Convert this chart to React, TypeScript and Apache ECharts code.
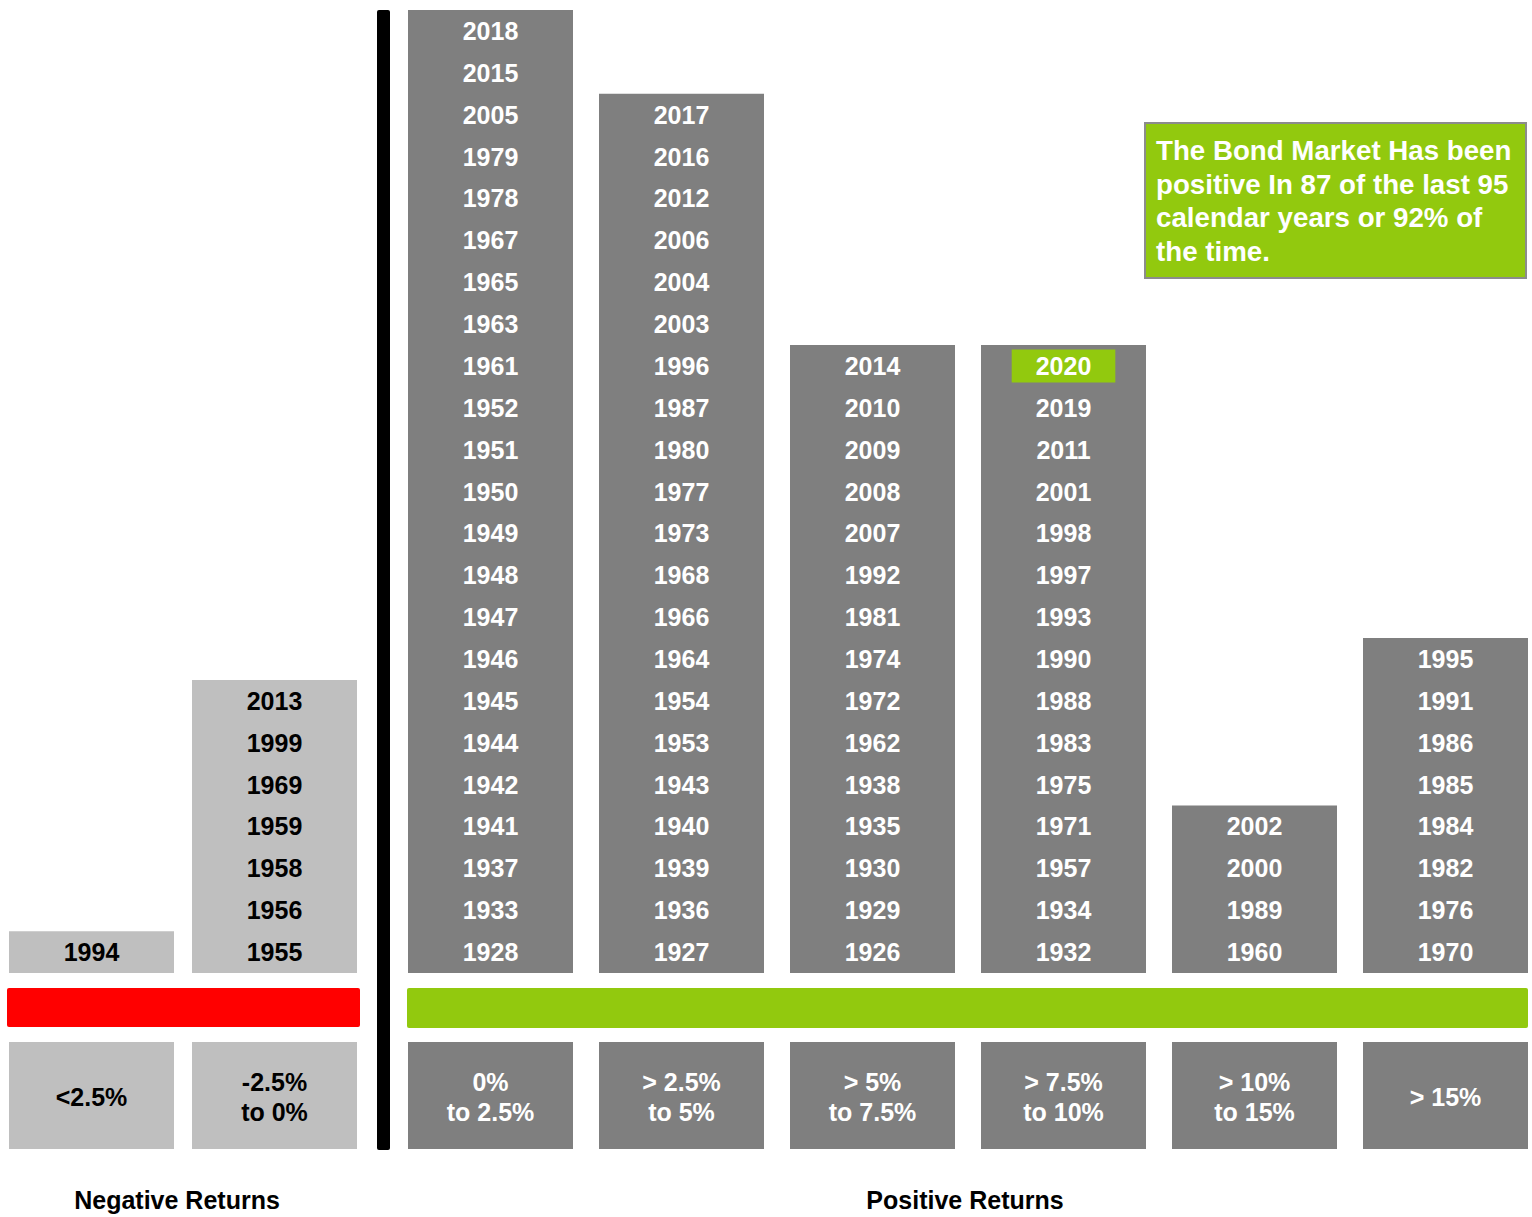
import React, { useEffect, useRef } from "react";
import * as echarts from "echarts";

// ---- Data ----
const negativeCategories = ["<2.5%", "-2.5%\nto 0%"];
const positiveCategories = [
  "0%\nto 2.5%",
  "> 2.5%\nto 5%",
  "> 5%\nto 7.5%",
  "> 7.5%\nto 10%",
  "> 10%\nto 15%",
  "> 15%",
];

// years listed top to bottom as in the picture
const negLowYears = ["1994"];
const negMidYears = ["2013", "1999", "1969", "1959", "1958", "1956", "1955"];
const pos0Years = [
  "2018", "2015", "2005", "1979", "1978", "1967", "1965", "1963", "1961", "1952", "1951", "1950",
  "1949", "1948", "1947", "1946", "1945", "1944", "1942", "1941", "1937", "1933", "1928",
];
const pos1Years = [
  "2017", "2016", "2012", "2006", "2004", "2003", "1996", "1987", "1980", "1977", "1973",
  "1968", "1966", "1964", "1954", "1953", "1943", "1940", "1939", "1936", "1927",
];
const pos2Years = [
  "2014", "2010", "2009", "2008", "2007", "1992", "1981", "1974", "1972", "1962", "1938",
  "1935", "1930", "1929", "1926",
];
const pos3Years = [
  "2020", "2019", "2011", "2001", "1998", "1997", "1993", "1990", "1988", "1983", "1975",
  "1971", "1957", "1934", "1932",
];
const pos4Years = ["2002", "2000", "1989", "1960"];
const pos5Years = ["1995", "1991", "1986", "1985", "1984", "1982", "1976", "1970"];

const negativeYears = [negLowYears, negMidYears];
const positiveYears = [pos0Years, pos1Years, pos2Years, pos3Years, pos4Years, pos5Years];

const highlightYear = "2020";
const maxRows = 23;
const annotationText =
  "The Bond Market Has been\npositive In 87 of the last 95\ncalendar years or 92% of\nthe time.";

// ---- Styles ----
const FONT = "'Liberation Sans', Arial, sans-serif";
const DARK_GRAY = "#7F7F7F";
const LIGHT_GRAY = "#BFBFBF";
const GREEN = "#92C90E";
const RED = "#FF0000";

function yearPoints(cols: string[][]) {
  const pts: any[] = [];
  cols.forEach((years, c) => {
    const n = years.length;
    years.forEach((y, i) => {
      const item: any = { name: y, value: [c, n - i - 0.5] };
      if (y === highlightYear) {
        item.label = { backgroundColor: GREEN, padding: [4, 24, 4, 24] };
      }
      pts.push(item);
    });
  });
  return pts;
}

function labelFormatter(v: string) {
  return v.indexOf("\n") >= 0 ? `{two|${v}}` : `{one|${v}}`;
}

function xAxisFor(
  gridIndex: number,
  data: string[],
  textColor: string,
  bg: string,
  name: string,
  namePadding: number[]
) {
  return {
    type: "category",
    gridIndex,
    data,
    axisLine: { show: false },
    axisTick: { show: false },
    axisLabel: {
      interval: 0,
      margin: 69,
      width: 165,
      padding: [25, 0, 22, 0],
      backgroundColor: bg,
      formatter: labelFormatter,
      rich: {
        one: { fontSize: 25, fontWeight: "bold", fontFamily: FONT, color: textColor, lineHeight: 60, align: "center" },
        two: { fontSize: 25, fontWeight: "bold", fontFamily: FONT, color: textColor, lineHeight: 30, align: "center" },
      },
    },
    name,
    nameLocation: "middle",
    nameGap: 214,
    nameTextStyle: {
      fontSize: 25,
      fontWeight: "bold",
      fontFamily: FONT,
      color: "#000",
      padding: namePadding,
    },
  };
}

function yAxisFor(gridIndex: number) {
  return {
    type: "value",
    gridIndex,
    min: 0,
    max: maxRows,
    show: false,
    splitLine: { show: false },
  };
}

function yearSeries(axisIndex: number, cols: string[][], color: string) {
  return {
    type: "scatter",
    xAxisIndex: axisIndex,
    yAxisIndex: axisIndex,
    symbol: "rect",
    symbolSize: 1,
    silent: true,
    z: 5,
    itemStyle: { color: "rgba(0,0,0,0)" },
    labelLayout: { hideOverlap: false },
    label: {
      show: true,
      position: "inside",
      formatter: "{b}",
      fontSize: 25,
      fontWeight: "bold",
      fontFamily: FONT,
      color,
      lineHeight: 25,
      opacity: 1,
    },
    data: yearPoints(cols),
  };
}

export default function App() {
  const ref = useRef<HTMLDivElement>(null);

  useEffect(() => {
    if (!ref.current) return;
    const chart = echarts.init(ref.current, null, { renderer: "svg" });

    const option: any = {
      animation: false,
      backgroundColor: "#FFFFFF",
      grid: [
        { left: 0, width: 366, top: 10, height: 963, outerBoundsMode: "none", containLabel: false },
        { left: 395, width: 1146, top: 10, height: 963, outerBoundsMode: "none", containLabel: false },
      ],
      xAxis: [
        xAxisFor(0, negativeCategories, "#000000", LIGHT_GRAY, "Negative Returns", [0, 12, 0, 0]),
        xAxisFor(1, positiveCategories, "#FFFFFF", DARK_GRAY, "Positive Returns", [0, 6, 0, 0]),
      ],
      yAxis: [yAxisFor(0), yAxisFor(1)],
      series: [
        {
          type: "bar",
          xAxisIndex: 0,
          yAxisIndex: 0,
          barWidth: 165,
          silent: true,
          itemStyle: { color: LIGHT_GRAY },
          data: negativeYears.map((ys) => ys.length),
        },
        {
          type: "bar",
          xAxisIndex: 1,
          yAxisIndex: 1,
          barWidth: 165,
          silent: true,
          itemStyle: { color: DARK_GRAY },
          data: positiveYears.map((ys) => ys.length),
        },
        yearSeries(0, negativeYears, "#000000"),
        yearSeries(1, positiveYears, "#FFFFFF"),
      ],
      graphic: [
        { type: "rect", shape: { x: 7, y: 988, width: 353, height: 39, r: 2 }, style: { fill: RED } },
        { type: "rect", shape: { x: 407, y: 988, width: 1121, height: 40, r: 2 }, style: { fill: GREEN } },
        { type: "rect", shape: { x: 377, y: 10, width: 13, height: 1140, r: 2 }, style: { fill: "#000000" } },
        {
          type: "rect",
          shape: { x: 1145, y: 123, width: 381, height: 155 },
          style: { fill: GREEN, stroke: "#8C8C8C", lineWidth: 2 },
        },
        {
          type: "text",
          x: 1156,
          y: 134,
          style: {
            text: annotationText,
            fill: "#FFFFFF",
            fontSize: 27.7,
            fontWeight: "bold",
            fontFamily: FONT,
            lineHeight: 33.5,
            verticalAlign: "top",
          },
        },
      ],
    };

    chart.setOption(option);
    return () => chart.dispose();
  }, []);

  return (
    <div
      ref={ref}
      style={{ position: "absolute", left: 0, top: 0, width: 1532, height: 1217 }}
    />
  );
}
